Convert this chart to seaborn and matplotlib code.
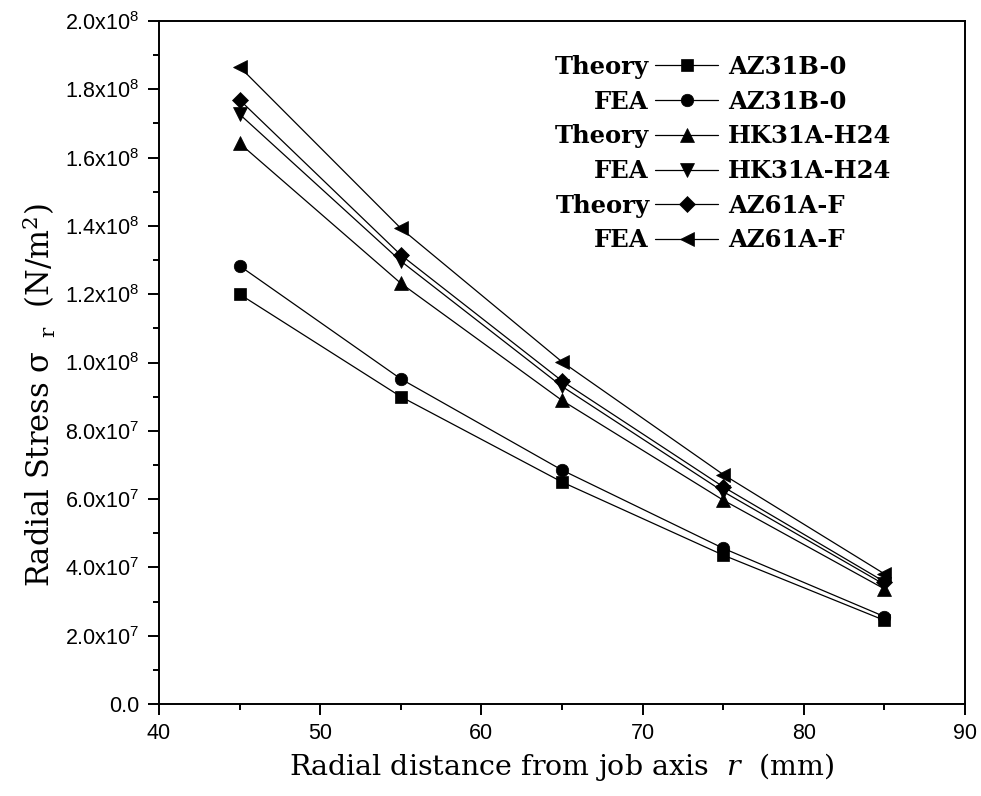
import matplotlib
matplotlib.use("Agg")
import math
import matplotlib.pyplot as plt
import seaborn as sns
import pandas as pd
from matplotlib.ticker import MultipleLocator, FuncFormatter

# ---- data ----
r_mm = [45, 55, 65, 75, 85]
theory_az31b = [1.200e8, 0.900e8, 0.650e8, 0.436e8, 0.245e8]
fea_az31b = [1.283e8, 0.952e8, 0.685e8, 0.456e8, 0.256e8]
theory_hk31a = [1.642e8, 1.232e8, 0.889e8, 0.597e8, 0.337e8]
fea_hk31a = [1.727e8, 1.297e8, 0.930e8, 0.622e8, 0.350e8]
theory_az61a = [1.769e8, 1.315e8, 0.946e8, 0.636e8, 0.358e8]
fea_az61a = [1.866e8, 1.393e8, 1.002e8, 0.672e8, 0.381e8]

methods = ["Theory", "FEA", "Theory", "FEA", "Theory", "FEA"]
materials = ["AZ31B-0", "AZ31B-0", "HK31A-H24", "HK31A-H24", "AZ61A-F", "AZ61A-F"]
series = [theory_az31b, fea_az31b, theory_hk31a, fea_hk31a, theory_az61a, fea_az61a]
markers = ["s", "o", "^", "v", "D", "<"]
msizes = [8.5, 9, 9.5, 9.5, 8, 9.5]

sns.set_style("ticks")
plt.rcParams["font.family"] = ["Liberation Sans", "DejaVu Sans"]
plt.rcParams["mathtext.fontset"] = "dejavuserif"
for k in ["text.color", "axes.labelcolor", "xtick.color", "ytick.color", "axes.edgecolor"]:
    plt.rcParams[k] = "black"

fig = plt.figure(figsize=(9.81, 7.96), dpi=100)
ax = fig.add_axes([159/981, 1 - 704/796, (965-159)/981, (704-21)/796])

for m, mat, vals, mk, ms in zip(methods, materials, series, markers, msizes):
    df = pd.DataFrame({"r": r_mm, "s": vals})
    sns.lineplot(data=df, x="r", y="s", ax=ax, color="black", lw=0.9,
                 marker=mk, markersize=ms, markeredgecolor="black",
                 markeredgewidth=0.5, label=f"{m}|{mat}")

ax.set_xlim(40, 90)
ax.set_ylim(0, 2.0e8)
ax.xaxis.set_major_locator(MultipleLocator(10))
ax.xaxis.set_minor_locator(MultipleLocator(5))
ax.yaxis.set_major_locator(MultipleLocator(2e7))
ax.yaxis.set_minor_locator(MultipleLocator(1e7))


def yfmt(v, pos):
    if abs(v) < 1:
        return "0.0"
    e = int(math.floor(math.log10(abs(v)) + 1e-9))
    mant = v / 10**e
    return f"{mant:.1f}x10$^{{\\mathregular{{{e}}}}}$"


ax.yaxis.set_major_formatter(FuncFormatter(yfmt))
ax.xaxis.set_major_formatter(FuncFormatter(lambda v, p: f"{int(v)}"))

for s in ax.spines.values():
    s.set_visible(True)
    s.set_linewidth(1.4)
    s.set_color("black")
ax.tick_params(axis="both", which="major", direction="out", length=8, width=1.4,
               labelsize=15.5, colors="black", pad=6)
ax.tick_params(axis="both", which="minor", direction="out", length=4.5, width=1.4,
               colors="black")
ax.tick_params(top=False, right=False, which="both")

ax.set_xlabel(r"Radial distance from job axis  $r$  (mm)", family="DejaVu Serif",
              fontsize=20.5, labelpad=5)
ax.set_ylabel(r"Radial Stress σ$_{\ \ \mathregular{r}}$  (N/m$^{\mathregular{2}}$)",
              family="DejaVu Serif", fontsize=22)
ax.yaxis.set_label_coords((58 - 159) / 806, (704 - 395) / 683)

handles, labels = ax.get_legend_handles_labels()
leg = ax.legend(handles, [lb.split("|")[1] for lb in labels], loc="upper left",
                bbox_to_anchor=(655/981, 1 - 55/796), bbox_transform=fig.transFigure,
                frameon=False, borderpad=0, borderaxespad=0, handlelength=2.6,
                handletextpad=0.41, labelspacing=0.44,
                prop={"family": "DejaVu Serif", "weight": "bold", "size": 17.5})
for t in leg.get_texts():
    t.set_color("black")

fig.canvas.draw()
renderer = fig.canvas.get_renderer()
inv = fig.transFigure.inverted()
for h, txt, lb in zip(leg.legend_handles, leg.get_texts(), labels):
    hb = h.get_window_extent(renderer)
    tb = txt.get_window_extent(renderer)
    xf, yf = inv.transform((hb.x0, (tb.y0 + tb.y1) / 2))
    fig.text(xf, yf, lb.split("|")[0], ha="right", va="center", color="black",
             family="DejaVu Serif", weight="bold", fontsize=17.5)

fig.savefig("out.png", dpi=100)
